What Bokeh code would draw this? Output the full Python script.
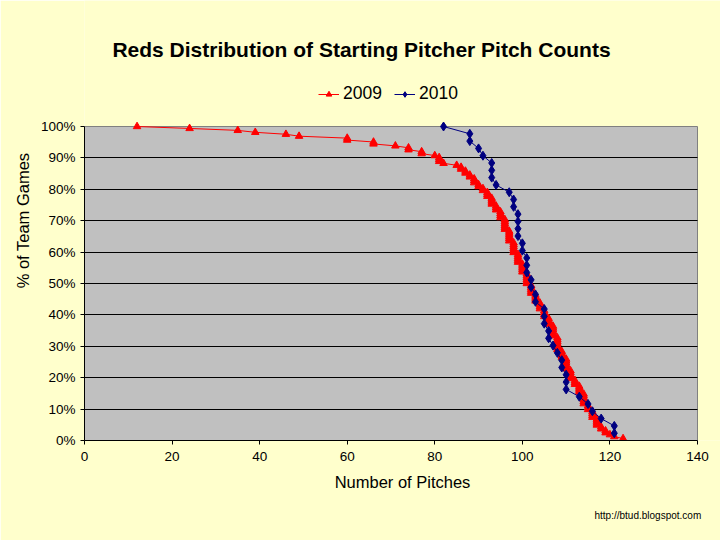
from bokeh.plotting import figure
from bokeh.models import FixedTicker, Legend, LegendItem, ColumnDataSource, Title, Label
from bokeh.embed import file_html
from bokeh.resources import INLINE

# Pitch counts per start, one value per game
pitches_2009 = [
    12, 24, 35, 39, 46, 49, 60, 60, 66, 66, 71, 74, 74, 77, 77, 80, 81, 81, 81, 82, 85,
    86, 86, 87, 87, 88, 88, 89, 89, 89, 90, 90, 91, 91, 92, 92, 92,
    93, 93, 93, 93, 94, 94, 94, 95, 95, 95, 95,
    96, 96, 96, 96, 96, 96, 97, 97, 97, 97, 97, 97, 98, 98, 98, 98, 98, 98,
    99, 99, 99, 99, 99, 100, 100, 100, 100, 100, 101, 101, 101, 101, 101, 101,
    102, 102, 102, 102, 102, 103, 103, 103, 103, 104, 104, 104, 104,
    105, 105, 105, 105, 106, 106, 106, 106, 107, 107, 107, 107, 107, 107,
    108, 108, 108, 108, 108, 108, 108, 109, 109, 109, 109,
    110, 110, 110, 110, 110, 110, 111, 111, 111, 111, 111, 112, 112, 112,
    113, 113, 113, 113, 114, 114, 114, 114, 114, 114, 115, 115, 115,
    116, 116, 116, 116, 117, 117, 117, 117, 118, 118, 119, 119, 120, 121, 123,
]
pitches_2010 = [
    82, 88, 88, 90, 91, 93, 93, 93, 94, 97, 98, 98, 99, 99, 99, 99, 100, 100,
    101, 101, 101, 102, 102, 103, 103, 105, 105, 105, 106, 106, 107, 108,
    109, 109, 110, 110, 110, 113, 115, 116, 118, 121, 121,
]
series_names = ["2009", "2010"]
x_ticks = [0, 20, 40, 60, 80, 100, 120, 140]
y_ticks = [0, 10, 20, 30, 40, 50, 60, 70, 80, 90, 100]
y_tick_labels = ["0%", "10%", "20%", "30%", "40%", "50%", "60%", "70%", "80%", "90%", "100%"]
title_text = "Reds Distribution of Starting Pitcher Pitch Counts"
credit_text = "http://btud.blogspot.com"


def share_at_least(vals):
    """% of team games with a pitch count at or above each sorted value."""
    s = sorted(vals)
    n = len(s)
    return s, [100.0 * (n - i) / n for i in range(n)]


FONT = "Liberation Sans"
YELLOW = "#FFFFCC"

# frame spans from the plot-area's left/bottom edges to the top/right of the
# canvas, so that the title and legend (drawn inside it) are not clipped
X0, X1 = x_ticks[0], x_ticks[-1]
Y0, Y1 = y_ticks[0], y_ticks[-1]
px_per_x = 613.0 / (X1 - X0)
px_per_y = 314.0 / (Y1 - Y0)
x_end = X1 + 23.0 / px_per_x
y_end = Y1 + 126.0 / px_per_y

p = figure(width=720, height=540, x_range=(X0, x_end), y_range=(Y0, y_end),
           output_backend="svg", toolbar_location=None, title=None,
           min_border_left=84, min_border_right=0, min_border_top=0,
           min_border_bottom=100,
           background_fill_color=YELLOW, border_fill_color=YELLOW,
           outline_line_color=None)

# plot area
p.quad(left=[X0], right=[X1], bottom=[Y0], top=[Y1], fill_color="#C0C0C0",
       line_color="#808080", line_width=1, level="image")

x9, y9 = share_at_least(pitches_2009)
x10, y10 = share_at_least(pitches_2010)
s9 = ColumnDataSource(dict(x=x9, y=y9))
s10 = ColumnDataSource(dict(x=x10, y=y10))

l9 = p.line("x", "y", source=s9, line_color="#FF0000", line_width=1)
m9 = p.scatter("x", "y", source=s9, marker="triangle", size=7.5,
               fill_color="#FF0000", line_color="#FF0000")
l10 = p.line("x", "y", source=s10, line_color="#000080", line_width=1)
m10 = p.scatter("x", "y", source=s10, marker="diamond", size=9,
                fill_color="#000080", line_color="#000080")

# axes
for ax in (p.xaxis[0], p.yaxis[0]):
    ax.axis_line_color = "black"
    ax.axis_line_width = 1
    ax.major_tick_line_color = "black"
    ax.major_tick_in = 0
    ax.major_tick_out = 4
    ax.minor_tick_line_color = None
    ax.major_label_text_font = FONT
    ax.major_label_text_font_size = "13.5px"
    ax.major_label_text_color = "black"
    ax.axis_label_text_font = FONT
    ax.axis_label_text_font_size = "16.5px"
    ax.axis_label_text_font_style = "normal"
    ax.axis_label_text_color = "black"

p.xaxis.ticker = FixedTicker(ticks=x_ticks)
p.yaxis.ticker = FixedTicker(ticks=y_ticks)
p.xaxis.bounds = (X0, X1)
p.yaxis.bounds = (Y0, Y1)
p.yaxis.major_label_overrides = {t: lab for t, lab in zip(y_ticks, y_tick_labels)}
p.xaxis.axis_label = "Number of Pitches"
p.yaxis.axis_label = "% of Team Games"
p.xaxis.major_label_standoff = 7
p.yaxis.major_label_standoff = 5
p.xaxis.axis_label_standoff = 9
p.yaxis.axis_label_standoff = 6

p.xgrid.visible = False
p.ygrid.ticker = FixedTicker(ticks=y_ticks[1:-1])
p.ygrid.cross_bounds = (X0, X1)
p.ygrid.grid_line_color = "black"
p.ygrid.grid_line_width = 1
p.ygrid.grid_line_alpha = 1

legend = Legend(items=[LegendItem(label=series_names[0], renderers=[l9, m9]),
                       LegendItem(label=series_names[1], renderers=[l10, m10])],
                orientation="horizontal", location=(234, 336),
                background_fill_alpha=0, border_line_alpha=0,
                label_text_font=FONT, label_text_font_size="17.5px",
                label_text_color="black",
                glyph_width=21, glyph_height=14, label_standoff=4,
                spacing=12, padding=0, margin=0)
p.add_layout(legend)

p.add_layout(Label(x=(361 - 84) / px_per_x, y=Y1 + (126 - 49) / px_per_y,
                   text=title_text, text_align="center", text_baseline="middle",
                   text_font=FONT, text_font_size="21px",
                   text_font_style="bold", text_color="black"))
p.add_layout(Title(text=credit_text, align="left", offset=594 - 84,
                   text_font=FONT, text_font_size="10px",
                   text_font_style="normal", text_color="black",
                   vertical_align="bottom", standoff=28), "below")

open("out.html", "w").write(file_html(p, INLINE))
